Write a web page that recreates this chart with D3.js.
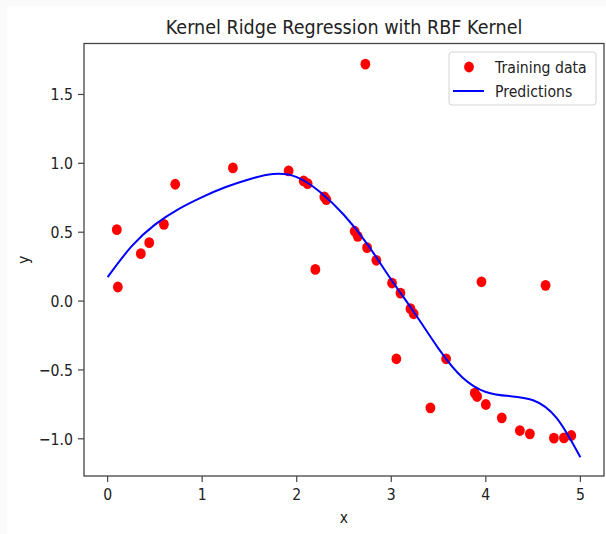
<!DOCTYPE html>
<html>
<head>
<meta charset="utf-8">
<script src="https://cdn.jsdelivr.net/npm/d3@7"></script>
<style>
  html, body { margin: 0; padding: 0; background: #fafafa; }
  svg { display: block; }
  text { font-family: "DejaVu Sans", sans-serif; fill: #222; }
</style>
</head>
<body>
<div id="chart"></div>
<script>
// training points
const trainX = [0.097, 0.108, 0.351, 0.44, 0.595, 0.715, 1.325,
  1.914, 2.073, 2.115, 2.197, 2.292, 2.313, 2.613, 2.645, 2.726, 2.744, 2.842,
  3.008, 3.054, 3.097, 3.203, 3.237, 3.414, 3.58, 3.883, 3.908, 3.954, 4.0,
  4.169, 4.36, 4.466, 4.632, 4.72, 4.826, 4.904];
const trainY = [0.519, 0.102, 0.344, 0.424, 0.557, 0.848, 0.967,
  0.945, 0.872, 0.853, 0.23, 0.756, 0.737, 0.507, 0.47, 1.72, 0.388, 0.296,
  0.131, -0.419, 0.058, -0.055, -0.092, -0.775, -0.419, -0.668, -0.693, 0.14, -0.751,
  -0.848, -0.94, -0.964, 0.114, -0.995, -0.993, -0.976];

// prediction curve, sampled along x
const predX = [0, 0.25, 0.5, 0.75, 1, 1.25, 1.5, 1.75, 2, 2.25, 2.5, 2.75,
  3, 3.25, 3.5, 3.75, 4, 4.25, 4.5, 4.75, 5];
const predY = [0.174, 0.395, 0.555, 0.668, 0.755, 0.828, 0.885, 0.922, 0.9, 0.79, 0.625, 0.41,
  0.155, -0.09, -0.345, -0.553, -0.66, -0.69, -0.72, -0.85, -1.134];

const xTicks = [0, 1, 2, 3, 4, 5];
const yTicks = [-1.0, -0.5, 0.0, 0.5, 1.0, 1.5];

const W = 606, H = 534;
const margin = { top: 43.5, right: 2, bottom: 58, left: 84 };
const sx = 0.88; // glyphs in the reference are narrow

const svg = d3.select("#chart").append("svg").attr("width", W).attr("height", H);
svg.append("rect").attr("x", 7).attr("y", 6).attr("width", W - 7).attr("height", H - 6).attr("fill", "#fff");

const x = d3.scaleLinear().domain([-0.25, 5.25]).range([margin.left, W - margin.right]);
const y = d3.scaleLinear().domain([-1.27, 1.87]).range([H - margin.bottom, margin.top]);

function label(g, tx, ty, str, size, anchor, rot) {
  return g.append("text")
    .attr("transform", `translate(${tx},${ty})` + (rot ? ` rotate(${rot})` : "") + ` scale(${sx},1)`)
    .attr("text-anchor", anchor)
    .style("font-size", size + "px")
    .text(str);
}

// points and curve
const plot = svg.append("g");
const line = d3.line().x(i => x(predX[i])).y(i => y(predY[i])).curve(d3.curveNatural);
plot.selectAll("ellipse.pt").data(d3.range(trainX.length)).join("ellipse")
  .attr("class", "pt")
  .attr("cx", i => x(trainX[i])).attr("cy", i => y(trainY[i]))
  .attr("rx", 4.9).attr("ry", 5.4).attr("fill", "#ff0000");
plot.append("path").datum(d3.range(predX.length)).attr("d", line)
  .attr("fill", "none").attr("stroke", "#0000ff").attr("stroke-width", 2);

// axes frame
svg.append("rect")
  .attr("x", margin.left).attr("y", margin.top)
  .attr("width", W - margin.right - margin.left).attr("height", H - margin.bottom - margin.top)
  .attr("fill", "none").attr("stroke", "#444").attr("stroke-width", 1.3);

const ax = svg.append("g");
xTicks.forEach(t => {
  ax.append("line").attr("x1", x(t)).attr("x2", x(t))
    .attr("y1", H - margin.bottom).attr("y2", H - margin.bottom + 6)
    .attr("stroke", "#444").attr("stroke-width", 1.2);
  label(ax, x(t), H - margin.bottom + 24, d3.format("d")(t), 16, "middle");
});
yTicks.forEach(t => {
  ax.append("line").attr("x1", margin.left - 6).attr("x2", margin.left)
    .attr("y1", y(t)).attr("y2", y(t))
    .attr("stroke", "#444").attr("stroke-width", 1.2);
  label(ax, margin.left - 11, y(t) + 6, d3.format(".1f")(t).replace("-", "\u2212"), 16, "end");
});

label(svg, (margin.left + W - margin.right) / 2, 34, "Kernel Ridge Regression with RBF Kernel", 20, "middle");
label(svg, (margin.left + W - margin.right) / 2, 523, "x", 16, "middle");
label(svg, 29, (margin.top + H - margin.bottom) / 2, "y", 16, "middle", -90);

// legend
const lg = svg.append("g");
lg.append("rect").attr("x", 449).attr("y", 52).attr("width", 147).attr("height", 53)
  .attr("rx", 3).attr("fill", "#fff").attr("fill-opacity", 0.8)
  .attr("stroke", "#d3d3d3").attr("stroke-width", 1);
lg.append("ellipse").attr("cx", 469).attr("cy", 67).attr("rx", 4.9).attr("ry", 5.4).attr("fill", "#ff0000");
lg.append("line").attr("x1", 453).attr("x2", 484).attr("y1", 91).attr("y2", 91)
  .attr("stroke", "#0000ff").attr("stroke-width", 2);
label(lg, 495, 73, "Training data", 16, "start");
label(lg, 495, 97, "Predictions", 16, "start");
</script>
</body>
</html>
